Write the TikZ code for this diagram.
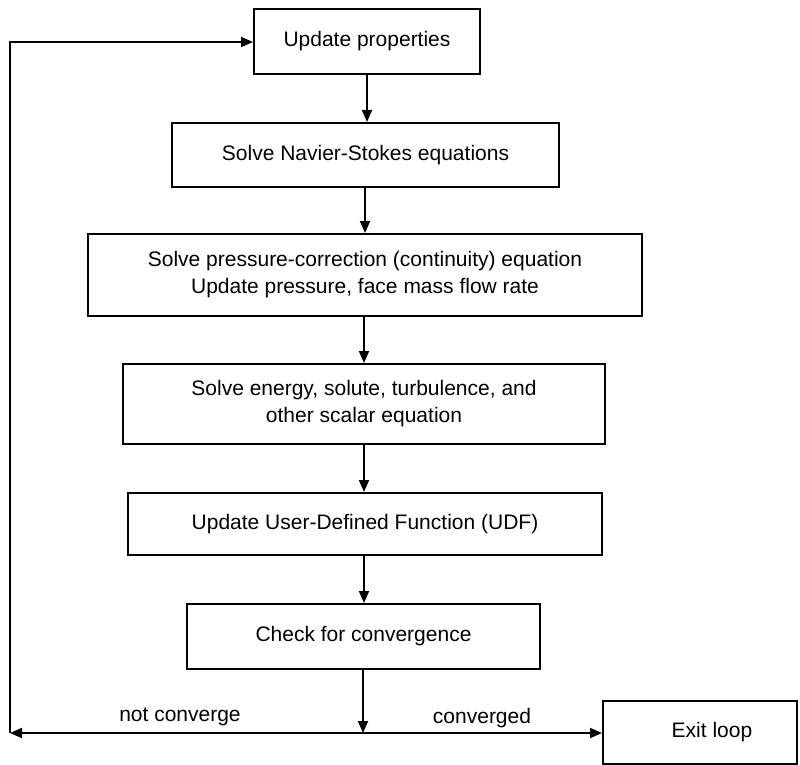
\documentclass[tikz,border=0pt]{standalone}
\usepackage{fontspec}
\setmainfont{Liberation Sans}
\usetikzlibrary{arrows.meta}
\begin{document}
\begin{tikzpicture}[x=1pt,y=-1pt,
  stepbox/.style={draw=black,line width=2pt,rectangle,inner sep=0pt,align=center,
    font=\fontsize{21}{27}\selectfont},
  conn/.style={line width=1.8pt,-{Triangle[length=12pt,width=10pt]}},
  lbl/.style={font=\fontsize{21}{26}\selectfont,inner sep=0pt}]
\useasboundingbox (0,0) rectangle (800,765);
\node[stepbox,minimum width=226pt,minimum height=65pt] (b1) at (367,41.5) {Update properties};
\node[stepbox,minimum width=387pt,minimum height=64pt] (b2) at (365.5,155) {Solve Navier-Stokes equations};
\node[stepbox,minimum width=554pt,minimum height=82pt] (b3) at (365,275) {Solve pressure-correction (continuity) equation\\Update pressure, face mass flow rate};
\node[stepbox,minimum width=482pt,minimum height=80pt] (b4) at (364,404) {Solve energy, solute, turbulence, and\\other scalar equation};
\node[stepbox,minimum width=474pt,minimum height=62pt] (b5) at (365,524) {Update User-Defined Function (UDF)};
\node[stepbox,minimum width=353pt,minimum height=65pt] (b6) at (363.5,636.5) {Check for convergence};
\node[stepbox,minimum width=194pt,minimum height=63pt] (ex) at (700,732.5) {\hspace*{24pt}Exit loop};
\coordinate (j) at (363,733);
\coordinate (bl) at (10,733);
\coordinate (tl) at (10,42);
\draw[conn] (b1.south -| 367,0) -- (367,0 |- b2.north);
\draw[conn] (b2.south -| 365,0) -- (365,0 |- b3.north);
\draw[conn] (b3.south -| 364,0) -- (364,0 |- b4.north);
\draw[conn] (b4.south -| 364,0) -- (364,0 |- b5.north);
\draw[conn] (b5.south -| 364,0) -- (364,0 |- b6.north);
\draw[conn] (b6.south -| j) -- (j);
\draw[conn] (j) -- (bl);
\draw[conn] (j) -- (ex.west |- j);
\draw[conn,line join=miter] (bl) -- (tl) -- (b1.west |- tl);
\node[lbl] (nc) at (180,717) {not converge};
\node[lbl] (cv) at (482,718) {converged};
\end{tikzpicture}
\end{document}
